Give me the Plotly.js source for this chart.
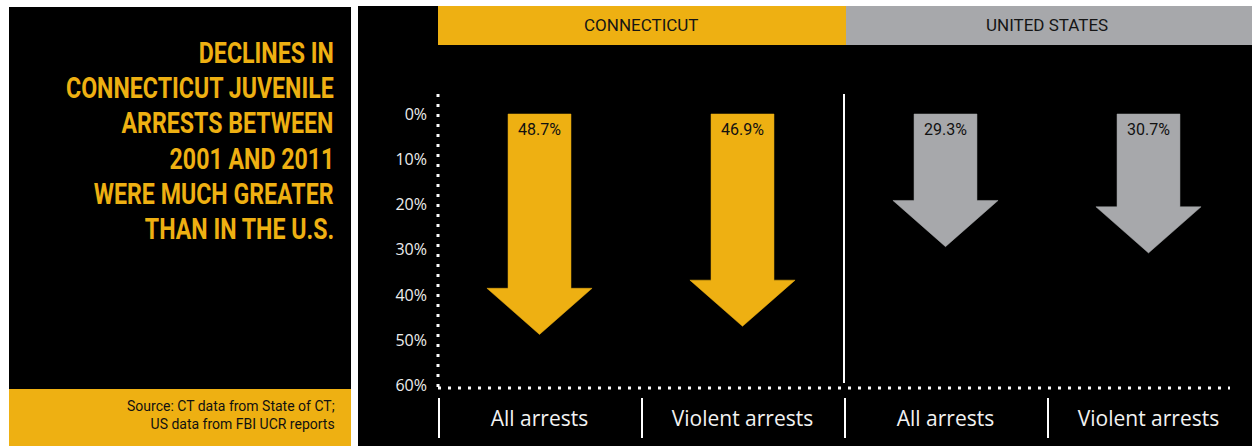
<!DOCTYPE html>
<html>
<head>
<meta charset="utf-8">
<script src="https://cdn.plot.ly/plotly-3.0.1.min.js"></script>
<style>
  html, body { margin: 0; padding: 0; background: #ffffff; }
  #chart { width: 1252px; height: 446px; }
</style>
</head>
<body>
<div id="chart"></div>
<script>
// ---------------- data ----------------
const categories = ['All arrests', 'Violent arrests', 'All arrests', 'Violent arrests'];
const regions = ['CONNECTICUT', 'UNITED STATES'];
const regionOfCategory = [0, 0, 1, 1];
const declines = [48.7, 46.9, 29.3, 30.7];
const yTickValues = [0, 10, 20, 30, 40, 50, 60];
const yTickLabels = ['0%', '10%', '20%', '30%', '40%', '50%', '60%'];
const titleLines = ['DECLINES IN', 'CONNECTICUT JUVENILE', 'ARRESTS BETWEEN', '2001 AND 2011', 'WERE MUCH GREATER', 'THAN IN THE U.S.'];
const sourceText = 'Source: CT data from State of CT;<br>US data from FBI UCR reports';

// ---------------- style / layout ----------------
const YELLOW = '#EEB012';
const GRAY = '#A7A8AB';
const regionColors = [YELLOW, GRAY];
const W = 1252, H = 446;
const M = { l: 438, r: 2, t: 94, b: 58 };
const PW = W - M.l - M.r, PH = H - M.t - M.b;
const XR = [-0.5, 3.5];
const YR = [60.53, -4.42];
const px = x => (x - M.l) / PW;           // page px -> paper x
const py = y => (H - M.b - y) / PH;       // page px -> paper y
const dx = v => (v - XR[0]) / (XR[1] - XR[0]); // data x -> paper x

// arrow geometry (in axis units: category width = 1, y in %)
const shaftHalf = 0.155, headHalf = 0.259, headLen = 10.2;

const traces = declines.map((v, i) => {
  const c = regionColors[regionOfCategory[i]];
  const xs = [i - shaftHalf, i - shaftHalf, i - headHalf, i, i + headHalf, i + shaftHalf, i + shaftHalf, i - shaftHalf];
  const ys = [0, v - headLen, v - headLen, v, v - headLen, v - headLen, 0, 0];
  return {
    type: 'scatter', mode: 'lines', x: xs, y: ys,
    fill: 'toself', fillcolor: c, line: { color: c, width: 0.5 },
    hoverinfo: 'skip', showlegend: false
  };
});

const white = '#FFFFFF';
const shapes = [
  // left panel
  { type: 'rect', xref: 'paper', yref: 'paper', x0: px(9), x1: px(351), y0: py(389), y1: py(7), fillcolor: '#000', line: { width: 0 }, layer: 'below' },
  { type: 'rect', xref: 'paper', yref: 'paper', x0: px(9), x1: px(351), y0: py(446), y1: py(389), fillcolor: YELLOW, line: { width: 0 }, layer: 'below' },
  // right panel
  { type: 'rect', xref: 'paper', yref: 'paper', x0: px(358), x1: px(1252), y0: py(446), y1: py(6), fillcolor: '#000', line: { width: 0 }, layer: 'below' },
  // region headers
  { type: 'rect', xref: 'paper', yref: 'paper', x0: dx(-0.5), x1: dx(1.5) + 2 / PW, y0: py(45), y1: py(6), fillcolor: YELLOW, line: { width: 0 }, layer: 'below' },
  { type: 'rect', xref: 'paper', yref: 'paper', x0: dx(1.5) + 2 / PW, x1: px(1252), y0: py(45), y1: py(6), fillcolor: GRAY, line: { width: 0 }, layer: 'below' },
  // dotted axes
  { type: 'line', xref: 'paper', yref: 'paper', x0: 0, x1: 0, y0: 1, y1: 0, line: { color: white, width: 3, dash: '3px,7px' } },
  { type: 'line', xref: 'paper', yref: 'paper', x0: 0, x1: px(1230), y0: 0, y1: 0, line: { color: white, width: 3, dash: '3px,7px' } },
  // region divider inside plot
  { type: 'line', xref: 'paper', yref: 'paper', x0: dx(1.5), x1: dx(1.5), y0: 1, y1: py(383), line: { color: white, width: 2 } }
];
// bottom category dividers
[-0.5, 0.5, 1.5, 2.5].forEach(v => {
  shapes.push({ type: 'line', xref: 'paper', yref: 'paper', x0: dx(v) + 1 / PW, x1: dx(v) + 1 / PW, y0: py(398), y1: py(438), line: { color: white, width: 2 } });
});

const annotations = [];
// region header labels
regions.forEach((r, k) => {
  annotations.push({
    xref: 'paper', yref: 'paper', x: dx(0.5 + 2 * k), y: py(25.5), xanchor: 'center', yanchor: 'middle',
    text: r, showarrow: false, font: { family: 'Roboto, sans-serif', size: 17, color: '#151515' }
  });
});
// title lines (left panel)
const titleFirstCenter = 52.5, titleStep = 35.2;
titleLines.forEach((t, k) => {
  annotations.push({
    xref: 'paper', yref: 'paper', x: px(336), y: py(titleFirstCenter + k * titleStep), xanchor: 'right', yanchor: 'middle',
    text: t, showarrow: false, name: 'title', font: { family: 'Roboto, sans-serif', size: 30, color: YELLOW, weight: 'bold' }
  });
});
// source
annotations.push({
  xref: 'paper', yref: 'paper', x: px(337), y: py(415), xanchor: 'right', yanchor: 'middle', align: 'right',
  text: sourceText, showarrow: false, font: { family: 'Roboto, sans-serif', size: 14, color: '#111' }
});
// value labels at the top of each arrow
declines.forEach((v, i) => {
  annotations.push({
    xref: 'x', yref: 'y', x: i, y: 0, xanchor: 'center', yanchor: 'middle', yshift: -15.5,
    text: v.toFixed(1) + '%', showarrow: false,
    font: { family: 'Roboto, sans-serif', size: 16, color: '#111' }
  });
});

const layout = {
  width: W, height: H,
  margin: M,
  paper_bgcolor: '#FFFFFF',
  plot_bgcolor: 'rgba(0,0,0,0)',
  showlegend: false,
  xaxis: {
    range: XR, tickvals: categories.map((c, i) => i), ticktext: categories,
    showgrid: false, zeroline: false, showline: false, ticks: '',
    ticklabelstandoff: 16, fixedrange: true,
    tickfont: { family: 'Open Sans, sans-serif', size: 21, color: '#F2F2F2' }
  },
  yaxis: {
    range: YR, tickvals: yTickValues, ticktext: yTickLabels,
    showgrid: false, zeroline: false, showline: false, ticks: '',
    ticklabelstandoff: 10, fixedrange: true,
    tickfont: { family: 'Open Sans, sans-serif', size: 16, color: '#EDEDED' }
  },
  shapes: shapes,
  annotations: annotations
};

// condense the left-panel title horizontally (condensed gothic look), anchored at right edge
function condenseTitle() {
  const gd = document.getElementById('chart');
  const groups = gd.querySelectorAll('g.annotation');
  const targets = [];
  groups.forEach(g => {
    const idx = +g.getAttribute('data-index');
    const a = layout.annotations[idx];
    if (a && a.name === 'title') {
      const t = g.querySelector('text.annotation-text');
      if (t && !t.dataset.condensed) targets.push(t);
    }
  });
  if (!targets.length) return;
  let maxW = 0;
  targets.forEach(t => { maxW = Math.max(maxW, t.getBBox().width); });
  const sx = 268 / maxW;
  targets.forEach(t => {
    const b = t.getBBox();
    const right = b.x + b.width;
    const prev = t.getAttribute('transform') || '';
    t.setAttribute('transform', prev + ' translate(' + right + ',0) scale(' + sx + ',1) translate(' + (-right) + ',0)');
    t.dataset.condensed = '1';
  });
}

Plotly.newPlot('chart', traces, layout, { staticPlot: true, displayModeBar: false }).then(condenseTitle);
</script>
</body>
</html>
